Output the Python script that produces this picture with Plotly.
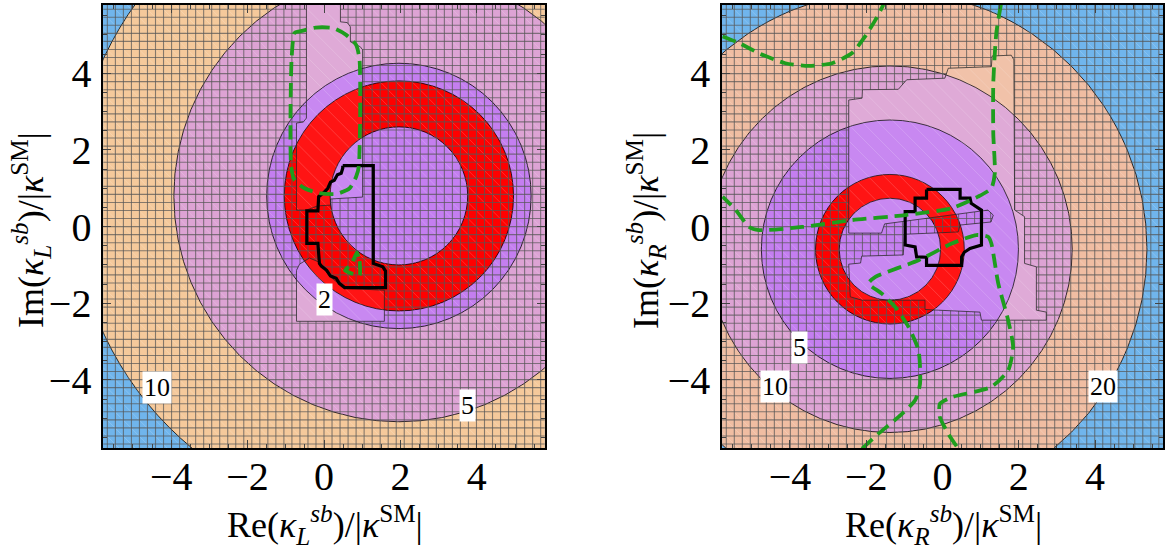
import numpy as np
import plotly.graph_objects as go

# ---------------- data ----------------
RANGE = [-5.78, 5.78]
TICKS = [-4, -2, 0, 2, 4]

# left panel: concentric contour bands (centre, boundary radii from outside in)
L_center = [1.96, 0.80]
L_radii = [8.52, 5.89, 3.46, 3.00, 1.80]
L_fill = ["#f5c99b", "#dda3d4", "#c47ef0", "#ff0000", "#c47ef0"]
L_labels = ["2", "5", "10"]
L_label_x = [0.01, 3.75, -4.38]
L_label_y = [-1.89, -4.66, -4.19]

# right panel
R_center = [-1.38, -0.59]
R_radii = [6.74, 4.78, 3.37, 1.95, 1.33]
R_fill = ["#f0bda2", "#dda3d4", "#c47ef0", "#ff0000", "#c47ef0"]
R_labels = ["5", "10", "20"]
R_label_x = [-3.74, -4.40, 4.20]
R_label_y = [-3.15, -4.17, -4.17]

BG_BLUE = "#70b5ec"

# regions without the scan mesh (thin outlines)
L_nogrid = [
    [(-0.46, 5.9), (0.43, 5.9), (0.43, 5.34), (0.61, 5.32), (0.69, 5.21), (0.69, 4.82),
     (0.95, 4.69), (1.01, 4.61), (1.01, 0.77), (0.17, 0.72), (0.17, 0.56), (-0.17, 0.54),
     (-0.46, 0.43), (-0.72, 0.43), (-0.72, 2.70), (-0.54, 2.73), (-0.46, 2.83)],
    [(-0.72, -2.47), (1.58, -2.47), (1.58, -1.66), (0.54, -1.61), (0.14, -1.29),
     (-0.12, -0.93), (-0.38, -0.82), (-0.64, -0.98), (-0.72, -1.14)],
]
R_nogrid = [
    [(1.30, 4.45), (1.80, 4.47), (1.87, 4.35), (1.89, 0.43), (2.15, 0.26), (2.15, -0.96),
     (2.46, -1.05), (2.46, -2.18), (2.72, -2.23), (2.72, -2.44), (1.02, -2.44), (0.98, -2.23),
     (-0.11, -2.18), (-0.46, -2.16), (-0.46, -1.92), (-2.11, -1.92), (-2.42, -1.83),
     (-2.46, -0.98), (-2.15, -0.95), (-2.12, -0.77), (-1.03, -0.74), (-1.0, -0.20),
     (0.41, -0.14), (0.46, 0.04), (1.27, 0.12), (1.33, 0.30), (1.19, 0.43), (-1.52, 0.07),
     (-1.60, -0.17), (-2.46, -0.17), (-2.46, 3.30), (-2.11, 3.35), (-2.10, 3.57),
     (-1.16, 3.58), (-0.94, 3.83), (0.06, 3.87), (0.15, 4.13), (1.28, 4.17)],
]

# thick black allowed regions
L_black_x = [0.49, 1.29, 1.29, 1.54, 1.61, 1.61, 0.54, 0.40, 0.32, 0.17, 0.07, -0.07, -0.12,
             -0.16, -0.45, -0.45, -0.16, -0.14, -0.01, 0.10, 0.17, 0.27, 0.35, 0.45, 0.49, 0.49]
L_black_y = [1.59, 1.59, -0.96, -1.05, -1.16, -1.59, -1.59, -1.48, -1.35, -1.29, -1.14, -1.03,
             -0.96, -0.44, -0.44, 0.41, 0.41, 0.78, 0.88, 1.00, 1.16, 1.21, 1.35, 1.39, 1.52, 1.59]
R_black_x = [-0.42, 0.46, 0.46, 0.72, 0.75, 1.02, 1.02, 0.72, 0.57, 0.50, 0.50, -0.42, -0.42,
             -0.68, -0.72, -0.98, -0.98, -0.72, -0.72, -0.42, -0.42]
R_black_y = [0.97, 0.97, 0.74, 0.74, 0.61, 0.43, -0.48, -0.57, -0.67, -0.79, -1.01, -1.01, -0.80,
             -0.79, -0.53, -0.48, 0.39, 0.39, 0.74, 0.74, 0.97]

# green dashed contours
L_green = [
    ([-0.64, -0.22, 0.23, 0.58, 0.84, 0.93, 0.91, 0.84, 0.67, 0.32, -0.12, -0.51, -0.77, -0.86, -0.85, -0.77, -0.64],
     [5.09, 5.19, 5.18, 5.00, 4.74, 4.35, 1.56, 1.30, 1.00, 0.85, 0.87, 1.00, 1.21, 1.56, 4.35, 5.05, 5.09]),
    ([0.86, 0.93, 0.93, 0.78, 0.55, 0.72, 0.86],
     [-0.68, -0.90, -1.27, -1.24, -1.14, -0.98, -0.68]),
]
R_green = [
    ([-5.77, -5.34, -4.81, -4.12, -3.51, -2.90, -2.38, -2.03, -1.76, -1.55],
     [4.96, 4.79, 4.52, 4.26, 4.19, 4.26, 4.52, 4.96, 5.39, 5.79]),
    ([1.53, 1.41, 1.33, 1.33, 1.37, 1.28, 0.93, 0.24, -0.98, -2.38, -3.68, -4.81, -5.07, -5.42, -5.77],
     [5.79, 5.05, 3.74, 2.43, 1.39, 1.00, 0.78, 0.48, 0.30, 0.17, -0.01, -0.09, -0.01, 0.43, 0.78]),
    ([-2.11, -1.68, -1.16, -0.72, -0.59, -0.63, -0.89, -1.24, -1.59, -1.94, -1.76, -0.63, 0.24, 0.89,
      1.20, 1.28, 1.46, 1.72, 1.85, 1.72, 1.28, 0.24, -0.07, -0.07, 0.15, 0.41],
     [-5.79, -5.40, -4.97, -4.53, -4.10, -3.23, -2.62, -2.10, -1.75, -1.48, -1.31, -0.88, -0.44, -0.22,
      -0.27, -0.44, -1.48, -2.44, -3.14, -3.75, -4.18, -4.45, -4.62, -4.97, -5.40, -5.79]),
]

GRID_STEP_L = 0.21
GRID_STEP_R = 0.21
MESH_STEP = 0.42

# ---------------- helpers ----------------
def grid_lines(step, polys, lo, hi):
    """Mesh lines that skip the listed polygons (even-odd rule)."""
    vals = np.arange(np.ceil(lo / step) * step, hi, step)
    xs, ys = [], []
    for vertical in (True, False):
        for c in vals:
            cuts = []
            for poly in polys:
                n = len(poly)
                for i in range(n):
                    (x1, y1), (x2, y2) = poly[i], poly[(i + 1) % n]
                    a1, b1, a2, b2 = (x1, y1, x2, y2) if vertical else (y1, x1, y2, x2)
                    if (a1 <= c < a2) or (a2 <= c < a1):
                        t = (c - a1) / (a2 - a1)
                        cuts.append(b1 + t * (b2 - b1))
            cuts.sort()
            parity = sum(1 for v in cuts if v <= lo) % 2
            pts = [lo] + [v for v in cuts if lo < v < hi] + [hi]
            for j in range(len(pts) - 1):
                if parity == 0:
                    if vertical:
                        xs += [c, c, None]; ys += [pts[j], pts[j + 1], None]
                    else:
                        xs += [pts[j], pts[j + 1], None]; ys += [c, c, None]
                parity ^= 1
    return xs, ys


def diag_lines(step, lo, hi):
    """Faint triangulation texture: diagonals clipped to the square."""
    xs, ys = [], []
    for c in np.arange(2 * lo, 2 * hi + step, step):
        x0, x1 = max(lo, c - hi), min(hi, c - lo)
        if x1 > x0:
            xs += [x0, x1, None]; ys += [c - x0, c - x1, None]
    return xs, ys


fig = go.Figure()
shapes = []
annotations = []

panels = [
    ("x", "y", L_center, L_radii, L_fill, L_nogrid, GRID_STEP_L, L_black_x, L_black_y, L_green,
     L_labels, L_label_x, L_label_y),
    ("x2", "y2", R_center, R_radii, R_fill, R_nogrid, GRID_STEP_R, R_black_x, R_black_y, R_green,
     R_labels, R_label_x, R_label_y),
]

for (xr, yr, cen, radii, fills, nogrid, step, bx, by, greens, labs, lx, ly) in panels:
    shapes.append(dict(type="rect", xref=xr + " domain", yref=yr + " domain", x0=0, x1=1, y0=0, y1=1,
                       fillcolor=BG_BLUE, line=dict(width=0), layer="below"))
    for r, col in zip(radii, fills):
        shapes.append(dict(type="circle", xref=xr, yref=yr, x0=cen[0] - r, x1=cen[0] + r,
                           y0=cen[1] - r, y1=cen[1] + r, fillcolor=col,
                           line=dict(color="black", width=0.8), layer="below"))
    dx, dy = diag_lines(MESH_STEP, RANGE[0], RANGE[1])
    fig.add_trace(go.Scatter(x=dx, y=dy, mode="lines", xaxis=xr, yaxis=yr, hoverinfo="skip",
                             line=dict(color="rgba(255,255,255,0.22)", width=0.8), showlegend=False))
    gx, gy = grid_lines(step, nogrid, RANGE[0], RANGE[1])
    fig.add_trace(go.Scatter(x=gx, y=gy, mode="lines", xaxis=xr, yaxis=yr, hoverinfo="skip",
                             line=dict(color="rgba(85,85,85,0.7)", width=1.1), showlegend=False))
    for poly in nogrid:
        px = [p[0] for p in poly] + [poly[0][0]]
        py = [p[1] for p in poly] + [poly[0][1]]
        fig.add_trace(go.Scatter(x=px, y=py, mode="lines", xaxis=xr, yaxis=yr, hoverinfo="skip",
                                 fill="toself", fillcolor="rgba(255,255,255,0.08)",
                                 line=dict(color="rgba(40,40,40,0.85)", width=0.9), showlegend=False))
    fig.add_trace(go.Scatter(x=bx, y=by, mode="lines", xaxis=xr, yaxis=yr, hoverinfo="skip",
                             line=dict(color="black", width=3.2), showlegend=False))
    for gxx, gyy in greens:
        fig.add_trace(go.Scatter(x=gxx, y=gyy, mode="lines", xaxis=xr, yaxis=yr, hoverinfo="skip",
                                 line=dict(color="#1e9e1e", width=3.8, dash="14px,7px", shape="spline",
                                           smoothing=0.6), showlegend=False))
    for t, x, y in zip(labs, lx, ly):
        annotations.append(dict(x=x, y=y, xref=xr, yref=yr, text=t, showarrow=False,
                                bgcolor="white", borderpad=1,
                                font=dict(family="Liberation Serif", size=26, color="black")))

axis_common = dict(range=RANGE, tickvals=TICKS, ticks="inside", ticklen=8, tickwidth=1.2,
                   mirror="allticks", showline=True, linecolor="black", linewidth=1.5,
                   showgrid=False, zeroline=False,
                   minor=dict(ticks="inside", dtick=0.5, ticklen=4, tickwidth=1, showgrid=False),
                   tickfont=dict(family="Liberation Serif", size=40, color="black"))

fig.update_layout(
    width=1165, height=552, margin=dict(l=0, r=0, t=0, b=0),
    paper_bgcolor="white", plot_bgcolor=BG_BLUE,
    xaxis=dict(domain=[0.0887, 0.4685], anchor="y", ticklabelstandoff=-8, **axis_common),
    yaxis=dict(domain=[0.188, 0.991], anchor="x", ticklabelstandoff=2, **axis_common),
    xaxis2=dict(domain=[0.6209, 1.0], anchor="y2", ticklabelstandoff=-8, **axis_common),
    yaxis2=dict(domain=[0.188, 0.991], anchor="x2", ticklabelstandoff=2, **axis_common),
    shapes=shapes,
)

title_font = dict(family="Liberation Serif", size=36, color="black")
annotations += [
    dict(xref="paper", yref="paper", x=326 / 1165, y=0, xanchor="center", yanchor="bottom",
         showarrow=False, font=title_font,
         text="Re(<i>κ</i><sub><i>L</i></sub><sup><i>sb</i></sup>)/|<i>κ</i><sup>SM</sup>|"),
    dict(xref="paper", yref="paper", x=945 / 1165, y=0, xanchor="center", yanchor="bottom",
         showarrow=False, font=title_font,
         text="Re(<i>κ</i><sub><i>R</i></sub><sup><i>sb</i></sup>)/|<i>κ</i><sup>SM</sup>|"),
    dict(xref="paper", yref="paper", x=4 / 1165, y=1 - 230 / 552, xanchor="left", yanchor="middle",
         showarrow=False, font=title_font, textangle=-90,
         text="Im(<i>κ</i><sub><i>L</i></sub><sup><i>sb</i></sup>)/|<i>κ</i><sup>SM</sup>|"),
    dict(xref="paper", yref="paper", x=620 / 1165, y=1 - 230 / 552, xanchor="left", yanchor="middle",
         showarrow=False, font=title_font, textangle=-90,
         text="Im(<i>κ</i><sub><i>R</i></sub><sup><i>sb</i></sup>)/|<i>κ</i><sup>SM</sup>|"),
]
fig.update_layout(annotations=annotations)

fig.write_html("out.html")
